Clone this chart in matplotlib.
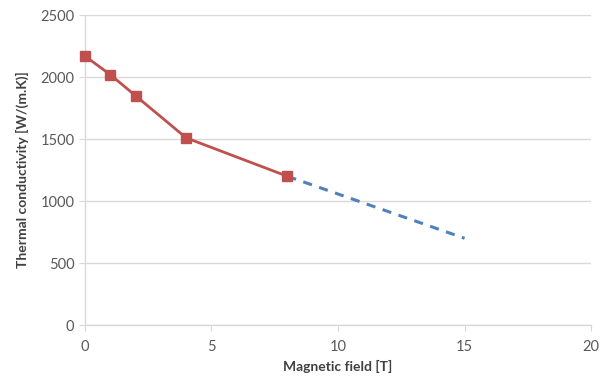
import matplotlib.pyplot as plt

# measured data (red) and extrapolation (blue dashed)
field_meas = [0, 1, 2, 4, 8]
kappa_meas = [2170, 2020, 1850, 1510, 1200]
field_extrap = [8, 15]
kappa_extrap = [1200, 700]

x_ticks = [0, 5, 10, 15, 20]
y_ticks = [0, 500, 1000, 1500, 2000, 2500]

plt.rcParams['font.family'] = ['Lato', 'DejaVu Sans']

fig = plt.figure(figsize=(6.02, 3.87), dpi=100)
ax = fig.add_axes([0.141, 0.160, 0.841, 0.801])

ax.plot(field_extrap, kappa_extrap, color='#4F81BD', linestyle=(0, (3, 2.5)),
        linewidth=2.2, zorder=2)
ax.plot(field_meas, kappa_meas, color='#C0504D', linewidth=2, marker='s',
        markersize=6.5, zorder=3, clip_on=False)

ax.set_xlim(0, 20)
ax.set_ylim(0, 2500)
ax.set_xticks(x_ticks)
ax.set_yticks(y_ticks)
ax.grid(axis='y', color='#D9D9D9', linewidth=1)
ax.set_axisbelow(True)

for s in ['top', 'right']:
    ax.spines[s].set_visible(False)
for s in ['left', 'bottom']:
    ax.spines[s].set_color('#D9D9D9')
    ax.spines[s].set_linewidth(1)
ax.tick_params(colors='#D9D9D9', labelcolor='#595959', labelsize=10.5, length=4)
ax.tick_params(axis='x', pad=7)

ax.set_xlabel('Magnetic field [T]', fontsize=10, fontweight='bold', color='#404040')
ax.set_ylabel('Thermal conductivity [W/(m.K)]', fontsize=10, fontweight='bold',
              color='#404040', labelpad=8)

fig.savefig('out.png', dpi=100)
